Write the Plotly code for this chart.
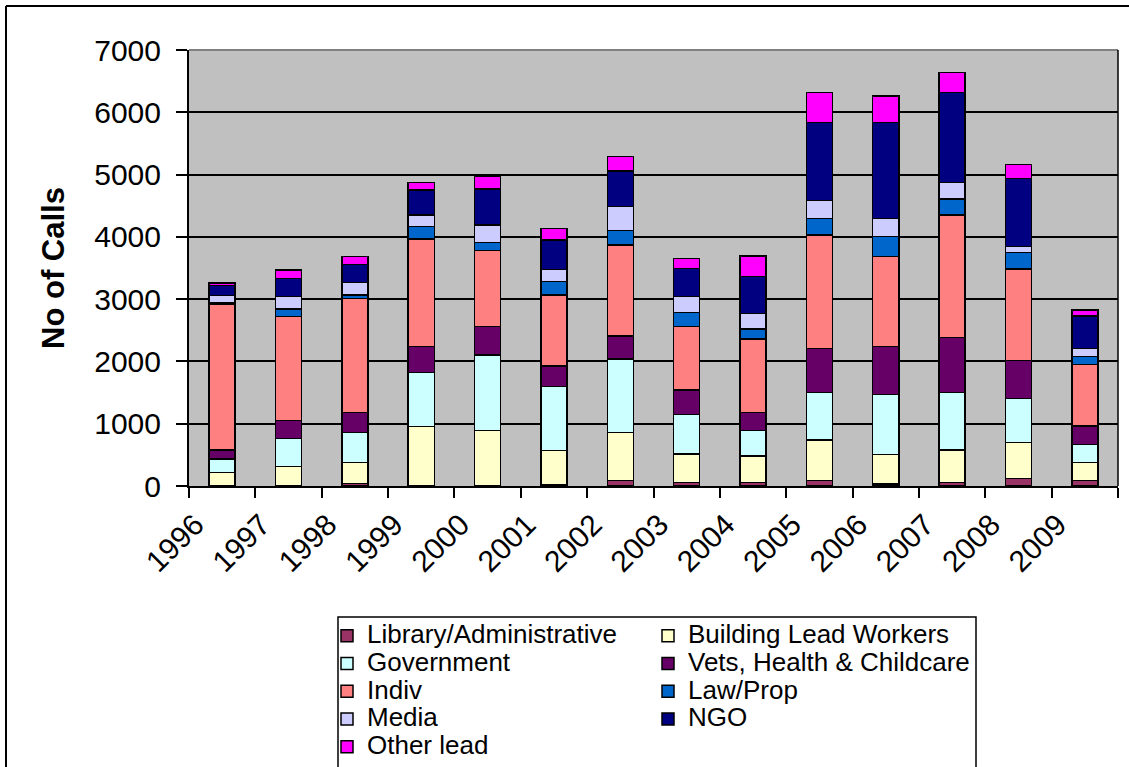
import plotly.graph_objects as go

# ---------------- data ----------------
years = ["1996", "1997", "1998", "1999", "2000", "2001", "2002",
         "2003", "2004", "2005", "2006", "2007", "2008", "2009"]

library_admin = [0, 0, 40, 0, 0, 20, 90, 60, 55, 90, 30, 60, 120, 90]
building_lead = [214, 310, 334, 952, 888, 547, 772, 454, 427, 648, 478, 518, 581, 290]
government = [219, 450, 482, 867, 1215, 1028, 1177, 637, 406, 760, 964, 920, 707, 289]
vets_health = [145, 289, 327, 417, 455, 331, 369, 390, 295, 712, 764, 883, 604, 294]
indiv = [2340, 1669, 1830, 1729, 1220, 1140, 1461, 1017, 1177, 1820, 1445, 1970, 1472, 991]
law_prop = [20, 123, 53, 198, 128, 214, 230, 231, 160, 262, 322, 257, 262, 122]
media = [120, 198, 204, 188, 284, 199, 385, 250, 252, 288, 294, 262, 97, 134]
ngo = [160, 295, 289, 401, 578, 470, 573, 456, 588, 1259, 1542, 1450, 1097, 519]
other_lead = [40, 134, 122, 124, 209, 188, 233, 160, 332, 481, 422, 321, 225, 97]

series_names = ["Library/Administrative", "Building Lead Workers", "Government",
                "Vets, Health & Childcare", "Indiv", "Law/Prop", "Media", "NGO",
                "Other lead"]
series_values = [library_admin, building_lead, government, vets_health, indiv,
                 law_prop, media, ngo, other_lead]
series_colors = ["#993366", "#FFFFCC", "#CCFFFF", "#660066", "#FF8080",
                 "#0066CC", "#CCCCFF", "#000080", "#FF00FF"]

y_tick_values = [0, 1000, 2000, 3000, 4000, 5000, 6000, 7000]

# ---------------- layout geometry ----------------
W, H = 1129, 767
L, R, T, B = 189, 1118, 50, 486  # plot area in pixels
FONT = "Liberation Sans, Arial, sans-serif"


def xp(px):
    return (px - L) / (R - L)


def yp(py):
    return (B - py) / (B - T)


fig = go.Figure()
for name, vals, color in zip(series_names, series_values, series_colors):
    fig.add_trace(go.Bar(
        x=years, y=vals,
        name=f"<span style='font-size:26px'>{name}</span>",
        marker=dict(color=color, line=dict(color="black", width=1.5)),
    ))

fig.update_layout(
    width=W, height=H,
    barmode="stack",
    bargap=0.608,
    paper_bgcolor="white",
    plot_bgcolor="#C0C0C0",
    margin=dict(l=L, r=W - R, t=T, b=H - B, autoexpand=False),
    font=dict(family=FONT, color="black"),
    showlegend=True,
    legend=dict(
        orientation="h",
        x=xp(327), y=yp(617), xanchor="left", yanchor="top",
        entrywidth=276, entrywidthmode="pixels",
        bgcolor="rgba(0,0,0,0)", borderwidth=0,
        font=dict(family=FONT, size=19, color="black"),
        traceorder="normal",
    ),
    xaxis=dict(
        type="category",
        tickson="boundaries",
        ticks="outside", ticklen=10, tickwidth=1.5, tickcolor="black",
        showline=True, linecolor="black", linewidth=2,
        showgrid=False,
        tickangle=-45,
        tickfont=dict(family=FONT, size=30, color="black"),
        ticklabelstandoff=7,
        ticklabelshift=-27,
        automargin=False,
    ),
    yaxis=dict(
        range=[0, 7000],
        tickvals=y_tick_values,
        ticks="outside", ticklen=11, tickwidth=1.5, tickcolor="black",
        showline=True, linecolor="black", linewidth=2,
        showgrid=True, gridcolor="black", gridwidth=1.5,
        zeroline=False,
        tickfont=dict(family=FONT, size=30, color="black"),
        ticklabelstandoff=9,
        title=dict(text="<b>No of Calls</b>",
                   font=dict(family=FONT, size=31, color="black"),
                   standoff=20),
        automargin=False,
    ),
    shapes=[
        # legend frame
        dict(type="rect", xref="paper", yref="paper",
             x0=xp(338), x1=xp(976), y0=yp(617), y1=yp(790),
             line=dict(color="black", width=1.5), fillcolor="white", layer="below"),
        # plot-area top and right edges
        dict(type="line", xref="paper", yref="paper", x0=0, x1=1, y0=1, y1=1,
             line=dict(color="#808080", width=2), layer="above"),
        dict(type="line", xref="paper", yref="paper", x0=1, x1=1, y0=0, y1=1,
             line=dict(color="black", width=1.5), layer="above"),
        # chart-area border (left and top)
        dict(type="line", xref="paper", yref="paper", x0=xp(6), x1=xp(6),
             y0=yp(6), y1=yp(800), line=dict(color="black", width=2)),
        dict(type="line", xref="paper", yref="paper", x0=xp(6), x1=xp(1140),
             y0=yp(6), y1=yp(6), line=dict(color="black", width=2)),
    ],
)

fig.write_html("out.html", config={"displayModeBar": False},
               post_script="document.body.style.margin='0px';")
